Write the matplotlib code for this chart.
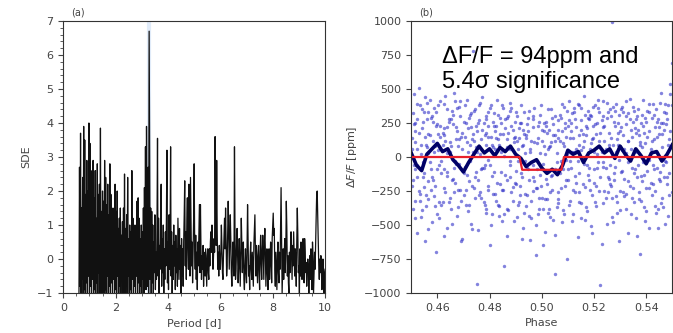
import numpy as np
import matplotlib.pyplot as plt
from matplotlib.ticker import MultipleLocator

# --- (a) periodogramme : SDE sur une grille de periodes (pas 0.02 d depuis 0.6 d) ---
P_START, P_STEP = 0.6, 0.02
SDE = [
    -1.0, 2.7, -0.8, 3.7, -1.0, 1.5, -0.6, 2.4, -1.0, 3.9,
    -0.9, 3.5, -1.0, 1.9, -0.7, 2.9, -1.0, 2.0, -0.5, 4.0,
    -1.0, 3.4, -0.8, 1.6, -1.0, 2.6, -0.6, 2.9, -1.0, 1.8,
    -0.9, 2.6, -1.0, 1.2, -0.7, 2.8, -1.0, 1.9, -0.4, 2.2,
    -1.0, 3.85, -0.8, 1.4, -1.0, 2.0, -0.6, 1.7, -1.0, 2.9,
    -0.9, 2.4, -1.0, 1.6, -0.5, 2.2, -1.0, 1.3, -0.8, 2.8,
    -1.0, 1.9, -0.7, 1.0, -1.0, 1.5, -0.6, 0.8, -1.0, 2.2,
    -0.9, 1.4, -1.0, 2.0, -0.5, 0.9, -1.0, 1.2, -0.8, 1.5,
    -1.0, 0.7, -0.6, 1.1, -1.0, 1.5, -0.7, 2.5, -1.0, 0.9,
    -0.8, 1.3, -1.0, 2.4, -0.5, 0.6, -1.0, 1.0, -0.9, 0.8,
    -1.0, 2.6, -0.6, 1.2, -1.0, 0.5, -0.8, 1.0, -1.0, 0.7,
    -0.5, 1.7, -1.0, 1.8, -0.7, 1.2, -1.0, 0.6, -0.8, 1.0,
    -1.0, 0.8, -0.6, 1.5, -1.0, 2.1, -0.4, 3.3, -0.9, 3.9,
    1.2, -0.8, 2.7, -1.0, 6.7, 2.8, -0.6, 1.5, -1.0, 1.4,
    -0.7, 1.0, -1.0, 0.5, -0.4, 1.3, -0.9, 0.2, -0.6, 0.9,
    3.55, -0.5, 1.2, -1.0, 0.4, -0.3, 1.4, 2.2, -0.8, 0.6,
    -0.4, 1.0, -1.0, 0.3, -0.6, 0.8, -0.2, 1.2, 3.2, -0.7,
    0.5, -0.9, 1.3, -0.3, 0.6, 3.3, -0.5, 0.8, -1.0, 0.4,
    -0.6, 1.0, -0.2, 0.5, -0.9, 0.7, -0.4, 0.3, -0.8, 1.2,
    0.2, -0.6, 0.9, -0.3, 0.4, -1.0, 0.6, -0.5, 0.3, -0.8,
    0.5, 1.3, 2.3, -0.2, 0.8, -0.6, 1.1, 1.8, 0.4, -0.3,
    2.2, 0.6, -0.5, 2.4, 1.0, -0.2, 0.5, -0.7, 0.3, 1.2,
    2.8, 0.4, -0.3, 0.7, -0.6, 0.2, -0.9, 0.5, -0.2, 0.8,
    1.6, -0.4, 1.6, 0.3, -0.6, 0.1, -0.3, 0.4, -0.8, 0.2,
    -0.1, -0.5, 0.3, -0.2, -0.8, 0.1, 0.3, -0.4, -0.6, 0.3,
    -0.2, 0.5, 0.8, 0.2, 1.0, 0.4, -0.3, 0.1, 0.6, 0.2,
    3.6, 1.2, 0.4, 2.9, 0.8, -0.3, 0.2, -0.5, 0.4, -0.1,
    -0.3, 0.2, 1.0, 0.4, -0.4, -0.6, 0.1, 0.6, 1.2, 0.3,
    1.5, 0.4, -0.5, -0.2, 0.8, 1.7, 0.9, -0.3, 0.5, 1.3,
    0.6, -0.4, -0.8, -0.2, 0.5, 0.2, -0.5, 3.3, 0.8, -0.6,
    -0.3, 0.4, 0.9, 0.1, -0.7, -0.2, 0.6, -0.1, -0.8, 0.2,
    1.2, 0.5, -0.4, 0.2, 0.5, -0.6, -0.9, -0.2, 0.3, -0.4,
    -0.7, 0.3, 1.6, 0.6, -0.5, -0.2, -0.9, 0.1, 0.5, -0.3,
    -0.6, 0.2, -0.3, -0.8, 0.4, 0.9, 1.3, 0.2, -0.5, 0.4,
    -0.2, -0.7, 0.1, 0.4, -0.4, -0.9, 0.2, 0.7, -0.1, -0.6,
    0.3, 0.7, 0.1, -0.6, 0.5, 0.9, 0.2, -0.8, -0.3, 0.3,
    -0.4, -0.9, 0.0, 0.3, -0.6, -0.2, 0.5, 0.1, -0.7, 0.6,
    1.0, 1.35, 0.7, 0.9, -0.3, -0.8, 0.2, -0.4, -0.9, 0.1,
    0.5, -0.4, -0.7, 0.2, -0.3, 0.8, 2.1, 0.6, -1.0, -0.3,
    0.3, -0.6, 0.1, 0.6, -0.4, 0.2, 1.7, 0.9, -0.5, 0.1,
    -0.7, -1.0, 0.2, -0.4, 0.3, 0.8, 0.1, -0.6, 0.4, -0.2,
    0.8, 0.2, -0.5, 0.3, 0.0, -0.8, 0.5, 1.5, 0.7, -0.4,
    -0.2, -1.0, 0.3, -0.5, 0.5, 0.1, -0.6, 0.2, 0.6, -0.3,
    -0.7, 0.6, 0.2, -0.4, -0.1, -0.8, -0.3, 0.0, -0.2, -1.0,
    -0.3, 0.1, -0.6, 0.3, -0.4, -0.9, 0.5, 0.1, -1.0, -0.4,
    0.2, -0.3, 0.5, 1.2, 1.9, 2.0, 1.3, 0.6, -0.2, -0.6,
    0.0, -0.4, 0.1, -0.3, -0.9, -0.5, 0.0, -0.7, -1.0, -0.4,
    -0.3,
]
BEST_PERIOD = 3.28

# --- (b) courbe repliee : points bruts, moyenne glissante, modele ---
PHASE = [
    .4502, .4505, .4509, .4513, .4516, .4521, .4524, .4528, .4533, .4537,
    .4541, .4544, .4548, .4551, .4556, .4559, .4563, .4566, .4571, .4576,
    .4581, .4583, .4587, .4592, .4595, .4598, .4603, .4607, .4611, .4615,
    .4620, .4624, .4627, .4631, .4636, .4639, .4643, .4648, .4652, .4657,
    .4661, .4664, .4668, .4672, .4675, .4679, .4684, .4688, .4692, .4696,
    .4701, .4705, .4708, .4713, .4717, .4720, .4724, .4729, .4733, .4737,
    .4742, .4745, .4749, .4752, .4757, .4761, .4764, .4769, .4772, .4777,
    .4781, .4785, .4788, .4793, .4796, .4800, .4805, .4808, .4812, .4817,
    .4821, .4824, .4829, .4832, .4836, .4841, .4844, .4849, .4853, .4856,
    .4861, .4865, .4868, .4872, .4877, .4880, .4884, .4889, .4892, .4897,
    .4901, .4904, .4909, .4912, .4916, .4921, .4925, .4928, .4933, .4936,
    .4941, .4945, .4948, .4953, .4956, .4960, .4965, .4968, .4972, .4977,
    .4981, .4984, .4988, .4993, .4996, .5001, .5004, .5009, .5012, .5016,
    .5021, .5025, .5028, .5032, .5037, .5040, .5044, .5049, .5052, .5057,
    .5061, .5064, .5069, .5072, .5076, .5081, .5085, .5088, .5093, .5096,
    .5101, .5105, .5108, .5113, .5116, .5120, .5125, .5128, .5132, .5137,
    .5141, .5144, .5149, .5152, .5157, .5160, .5164, .5169, .5172, .5176,
    .5181, .5185, .5188, .5192, .5197, .5200, .5204, .5209, .5212, .5217,
    .5221, .5224, .5229, .5233, .5236, .5240, .5245, .5248, .5253, .5256,
    .5261, .5265, .5268, .5273, .5276, .5280, .5285, .5288, .5292, .5297,
    .5301, .5304, .5309, .5312, .5316, .5321, .5324, .5329, .5332, .5336,
    .5341, .5345, .5348, .5353, .5356, .5360, .5365, .5368, .5373, .5377,
    .5381, .5384, .5389, .5392, .5396, .5401, .5404, .5409, .5412, .5417,
    .5421, .5425, .5428, .5432, .5437, .5440, .5444, .5449, .5452, .5456,
    .5461, .5464, .5469, .5472, .5477, .5480, .5484, .5489, .5492, .5497,
]
FLUX_A = [
    140, -380, 460, -90, 250, -560, 60, -250, 380, -440,
    210, -150, 330, -620, 90, 400, -310, 170, -40, 290,
    -480, 120, 360, -210, -700, 240, 50, -330, 410, -120,
    180, -90, 390, -260, 30, -520, 280, 110, -380, 340,
    -160, 470, -30, 220, -430, 80, 370, -240, 150, -600,
    260, -70, -350, 420, 40, -180, 310, -490, 130, 780,
    -230, 350, -110, 190, -540, 270, 20, -300, 440, -80,
    160, -410, 300, -20, 230, -650, 380, -140, 70, 320,
    -270, 140, 420, -350, 90, -200, 250, -470, 360, 10,
    -130, 290, -580, 180, 400, -60, 230, -320, 110, -190,
    330, -440, 60, 210, -280, 380, -150, -520, 170, -30,
    -360, 240, -90, 340, -610, 120, -250, 300, -180, -720,
    100, -420, 260, -130, 380, -300, -50, 190, -550, 230,
    -200, 350, -380, 80, -140, 290, -460, 160, -860, 30,
    270, -310, 120, -230, 390, -90, -420, 210, -20, 340,
    -170, 410, -30, 250, -470, 140, 330, -260, 60, -590,
    380, -120, 200, -340, 70, 450, -220, 160, -400, 290,
    -80, 310, -510, 130, 370, -190, 240, -360, 20, 420,
    -250, 180, -640, 300, -40, 230, -300, 400, -150, 90,
    350, -210, 990, -480, 260, -70, 390, -330, 180, -20,
    -390, 220, 50, 330, -160, 410, -270, 120, -560, 280,
    60, -300, 370, -120, 210, -450, 300, -60, 160, -710,
    250, -180, 420, -370, 100, -230, 340, -520, 190, 30,
    -280, 390, -90, 220, -410, 150, 280, -160, 400, -340,
    170, -60, 330, -490, 240, -200, 380, -120, 460, 690,
]
FLUX_B = [
    -210, 320, -60, 190, -450, 280, -150, 510, -320, 90,
    -390, 260, -120, 440, -280, 70, -530, 330, 160, -240,
    300, -170, 40, -360, 230, -90, 380, -450, 150, -30,
    -330, 210, -580, 120, 350, -140, 260, -300, 80, -490,
    240, -260, 410, -50, 190, -370, 130, 300, -620, 60,
    -120, 380, -240, 110, -400, 290, -30, 220, -530, 170,
    340, -150, 70, -930, 250, -280, 400, -90, 200, -330,
    -60, 280, -380, 150, -210, 360, -500, 90, -270, 230,
    190, -320, 50, 310, -430, 170, -110, 380, -240, -800,
    280, -170, 130, -390, 60, 340, -260, 200, -470, 150,
    -100, 300, -350, 140, -210, 250, -600, 90, 330, -270,
    160, -80, 290, -430, 40, -320, 220, -150, 360, -500,
    -230, 140, -380, 310, -90, 200, -650, 80, -310, 260,
    180, -410, 70, -260, 350, -130, 240, -570, 120, -40,
    -340, 200, -120, 290, -480, 100, 370, -210, 150, -750,
    230, -350, 140, -80, 320, -420, 40, 280, -190, 390,
    -260, 90, 360, -450, 170, -50, 310, -370, 210, -130,
    280, -240, 100, -560, 230, 40, -330, 170, -80, 360,
    120, -940, 270, -70, 410, -250, 60, -490, 330, -160,
    -200, 300, -440, 90, -170, 340, -290, 130, 250, -620,
    190, -110, 370, -260, 60, -380, 240, -40, 320, -210,
    -420, 150, -230, 340, -90, 280, -580, 200, -310, 110,
    -140, 310, -40, 180, -470, 260, -100, 390, -230, 60,
    290, -200, 130, -360, 350, -80, -520, 220, -180, 470,
    -300, 250, -150, 390, -40, 280, -430, 130, 540, -260,
]
FLUX_C = [
    60, -170, 240, -320, 110, 390, -60, 180, -270, 20,
    350, -40, -220, 150, -360, 280, 30, -180, 420, -90,
    -150, 260, -290, 80, 330, -420, 170, -60, 230, -350,
    90, -230, 160, 450, -110, 220, -330, 40, 280, -170,
    310, -80, -190, 130, 360, -240, -50, 410, -320, 180,
    -280, 150, 250, -130, 210, -350, 90, 320, -210, 40,
    120, -300, 230, 40, -170, 380, -260, 130, -80, 250,
    -350, 90, 180, -240, 330, -60, 150, -420, 260, -110,
    60, 230, -190, 130, -360, 290, 40, -240, 170, -420,
    210, -380, 70, 300, -150, -30, 360, -220, 140, 260,
    -200, 120, -30, -330, 250, -120, 80, 200, -410, 30,
    140, -280, 190, -170, 60, -450, 280, -60, 110, -230,
    -90, 230, -300, 30, -210, 120, -380, 250, 20, -160,
    -310, 60, 200, -440, 110, -240, 160, -90, 300, -370,
    140, -260, 310, -30, 190, -390, 80, 250, -170, 20,
    -90, 270, -320, 190, 40, -240, 360, -140, 220, -30,
    160, -330, 50, 270, -200, 120, -460, 230, -60, 340,
    -170, 60, 300, -280, 140, -90, 380, -210, 250, -40,
    330, -150, 40, 220, -340, 120, -80, 290, -260, 180,
    -60, 140, -300, 370, -120, 230, 40, -410, 90, 310,
    -250, 350, -100, 160, -290, 30, 300, -180, 120, 430,
    200, -80, 260, -330, 40, 180, -150, 350, -260, 90,
    -320, 70, 230, -130, 290, -400, 150, -20, 330, -190,
    120, -60, 310, -250, 40, 260, -380, 170, -110, 250,
    70, -370, 200, -30, 320, -150, 90, -280, 190, 380,
]
BIN_PHASE = [
    0.450, 0.452, 0.454, 0.456, 0.458, 0.460, 0.462, 0.464, 0.466, 0.468,
    0.470, 0.472, 0.474, 0.476, 0.478, 0.480, 0.482, 0.484, 0.486, 0.488,
    0.490, 0.492, 0.494, 0.496, 0.498, 0.500, 0.502, 0.504, 0.506, 0.508,
    0.510, 0.512, 0.514, 0.516, 0.518, 0.520, 0.522, 0.524, 0.526, 0.528,
    0.530, 0.532, 0.534, 0.536, 0.538, 0.540, 0.542, 0.544, 0.546, 0.548,
    0.550,
]
BIN_FLUX = [
    30, -60, -100, 20, 60, 100, 40, 60, -20, -60,
    -110, -40, 20, 80, 30, 60, 10, 70, 40, 80,
    20, -10, -70, -40, -20, -80, -120, -90, -130, -60,
    50, 20, 40, -40, 30, 50, 80, 30, 60, -10,
    80, 20, -30, 60, 10, -50, 30, 40, -30, 20,
    90,
]
MODEL_PHASE = [0.45, 0.4915, 0.4925, 0.5075, 0.5085, 0.55]
MODEL_FLUX = [0, 0, -94, -94, 0, 0]

TICK = "#444444"
plt.rcParams.update({"font.size": 8, "xtick.color": TICK, "ytick.color": TICK,
                     "axes.labelcolor": TICK, "axes.edgecolor": "#333333"})

fig = plt.figure(figsize=(6.73, 3.33), dpi=100)
ax1 = fig.add_axes([0.094, 0.120, 0.389, 0.817])
ax2 = fig.add_axes([0.611, 0.120, 0.388, 0.817])

# (a)
periods = P_START + P_STEP * np.arange(len(SDE))
ax1.axvline(BEST_PERIOD, color="#a8c8f0", lw=3, alpha=0.35, zorder=1)
ax1.plot(periods, SDE, color="#111111", lw=0.9, zorder=2)
ax1.set_xlim(0, 10); ax1.set_ylim(-1, 7)
ax1.xaxis.set_minor_locator(MultipleLocator(0.5))
ax1.yaxis.set_minor_locator(MultipleLocator(0.2))
ax1.set_xlabel("Period [d]"); ax1.set_ylabel("SDE")
ax1.text(0.03, 1.02, "(a)", transform=ax1.transAxes, fontsize=7, color=TICK)

# (b)
ph = np.array(PHASE)
for flux in (FLUX_A, FLUX_B, FLUX_C):
    ax2.scatter(ph, flux, s=6, color="#3030c8", alpha=0.6, lw=0)
ax2.plot(BIN_PHASE, BIN_FLUX, color="#000066", lw=2.6)
ax2.plot(MODEL_PHASE, MODEL_FLUX, color="#e8202a", lw=1.6)
ax2.set_xlim(0.45, 0.55); ax2.set_ylim(-1000, 1000)
ax2.set_xticks([0.46, 0.48, 0.50, 0.52, 0.54])
ax2.set_yticks(np.arange(-1000, 1001, 250))
ax2.set_xlabel("Phase"); ax2.set_ylabel(r"$\Delta F/F$ [ppm]")
ax2.text(0.03, 1.02, "(b)", transform=ax2.transAxes, fontsize=7, color=TICK)
ax2.text(0.4618, 690, "ΔF/F = 94ppm and", fontsize=17, family="Liberation Sans", va="baseline")
ax2.text(0.4618, 510, "5.4σ significance", fontsize=17, family="Liberation Sans", va="baseline")

fig.savefig("out.png", dpi=100)
